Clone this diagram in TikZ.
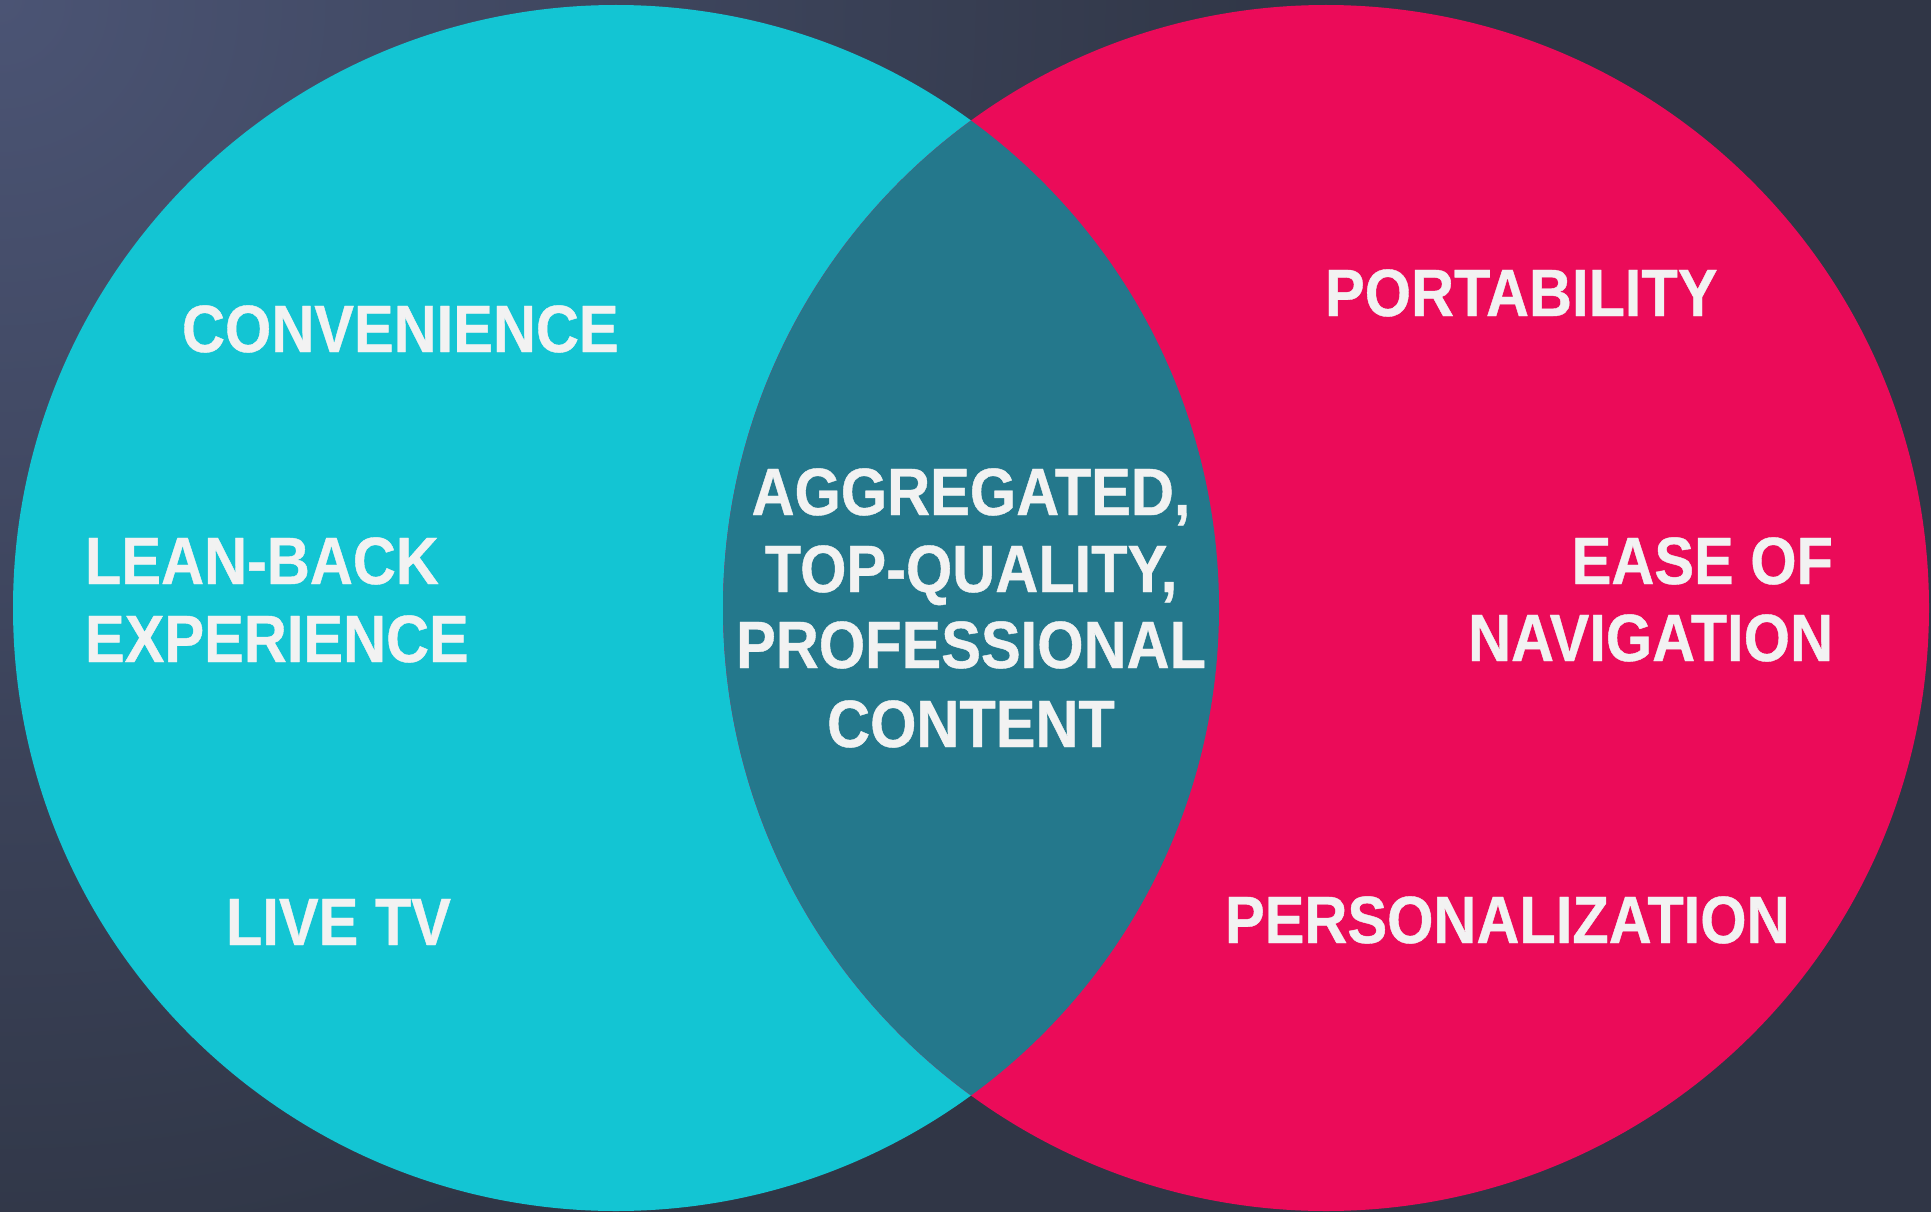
\documentclass[tikz,border=0pt]{standalone}
\usepackage{fontspec}
\newfontfamily\lblfont{Liberation Sans}[FakeStretch=0.89,BoldFeatures={FakeStretch=0.89,FakeBold=0.6}]
\definecolor{bgdark}{HTML}{303646}
\definecolor{bglight}{HTML}{4B5474}
\definecolor{venncyan}{HTML}{13C5D3}
\definecolor{vennpink}{HTML}{EB0B59}
\definecolor{vennmix}{HTML}{24788C}
\definecolor{labeltext}{HTML}{F2F2F2}
\tikzset{
  lbl/.style={text=labeltext, font=\lblfont\bfseries\fontsize{66.9}{77}\selectfont, inner sep=0pt, outer sep=0pt},
}
\begin{document}
\begin{tikzpicture}[x=1pt,y=-1pt]
  % canvas and background glow from the top-left corner
  \useasboundingbox (0,0) rectangle (1931,1212);
  \begin{scope}
    \clip (0,0) rectangle (1931,1212);
    \fill[bgdark] (0,0) rectangle (1931,1212);
    \shade[inner color=bglight, outer color=bgdark] (0,0) circle (1300);
  \end{scope}

  % the two sets
  \coordinate (cl) at (616,608);
  \coordinate (cr) at (1326,608);
  \fill[venncyan] (cl) circle (603);
  \fill[vennpink] (cr) circle (603);
  \begin{scope}
    \clip (cl) circle (603);
    \fill[vennmix] (cr) circle (603);
  \end{scope}

  % left set
  \node[lbl, anchor=base west] (convenience) at (182,352) {CONVENIENCE};
  \node[lbl, anchor=base west] (leanback) at (85,584) {LEAN-BACK};
  \node[lbl, anchor=base west] (experience) at (85,662) {EXPERIENCE};
  \node[lbl, anchor=base west] (livetv) at (226,945) {LIVE TV};

  % overlap
  \node[lbl, anchor=base] (aggregated) at (971,515) {AGGREGATED,};
  \node[lbl, anchor=base] (topquality) at (971,592) {TOP-QUALITY,};
  \node[lbl, anchor=base] (professional) at (971,668) {PROFESSIONAL};
  \node[lbl, anchor=base] (content) at (971,747) {CONTENT};

  % right set
  \node[lbl, anchor=base west] (portability) at (1325,316) {PORTABILITY};
  \node[lbl, anchor=base east] (easeof) at (1833,584) {EASE OF};
  \node[lbl, anchor=base east] (navigation) at (1833,661) {NAVIGATION};
  \node[lbl, anchor=base west] (personalization) at (1225,943) {PERSONALIZATION};
\end{tikzpicture}
\end{document}
